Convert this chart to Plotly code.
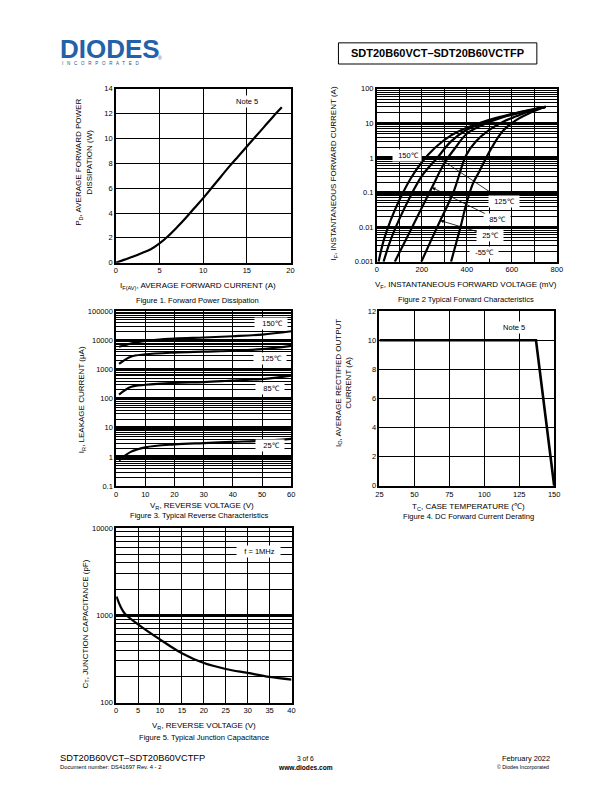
import plotly.graph_objects as go

W, H = 612, 792
FONT = "Liberation Sans, Arial, Helvetica, sans-serif"


def px(x):
    return x / W


def py(y):
    return 1 - y / H


# ---------------- data ----------------
# Figure 1: forward power dissipation
f1_if = [0, 1, 2, 3, 4, 5, 6, 7, 8, 9, 10, 11, 12, 13, 14, 15, 16, 17, 18, 19]
f1_pd = [0, 0.25, 0.5, 0.78, 1.08, 1.55, 2.15, 2.85, 3.6, 4.4, 5.2, 6.05, 6.9,
         7.75, 8.55, 9.35, 10.15, 10.95, 11.75, 12.5]

# Figure 2: typical forward characteristics (V in mV, I in A)
f2_v150 = [8, 30, 60, 100, 150, 200, 260, 330, 400, 480, 560, 640, 700, 750]
f2_i150 = [0.001, 0.004, 0.015, 0.06, 0.25, 0.75, 2.0, 4.5, 7.5, 11.5, 16, 21.5, 26, 30]
f2_v125 = [30, 60, 100, 150, 200, 271, 330, 400, 480, 560, 640, 700, 750]
f2_i125 = [0.001, 0.004, 0.017, 0.08, 0.3, 1.05, 3.0, 6.5, 10.5, 15.5, 21, 25.5, 30]
f2_v85 = [80, 157, 245, 300, 350, 400, 480, 560, 640, 700, 750]
f2_i85 = [0.001, 0.01, 0.14, 0.7, 2.0, 5.0, 9.5, 15, 20.5, 25, 30]
f2_v25 = [198, 240, 282, 340, 397, 440, 500, 560, 620, 690, 750]
f2_i25 = [0.001, 0.004, 0.0155, 0.1, 1.2, 3.0, 6.5, 11, 16, 24, 30]
f2_vm55 = [330, 350, 372, 397, 427, 455, 507, 560, 616, 680, 750]
f2_im55 = [0.001, 0.003, 0.01, 0.045, 0.18, 0.4, 1.8, 6, 12, 20, 30]

# Figure 3: typical reverse characteristics (uA)
f3_vr = [1, 5, 10, 20, 30, 40, 50, 60]
f3_150 = [6000, 7700, 9600, 11500, 12500, 13800, 15800, 20500]
f3_125 = [1550, 2750, 3300, 3800, 4100, 4400, 5000, 6500]
f3_85 = [138, 250, 300, 350, 370, 420, 470, 620]
f3_25 = [0.76, 1.5, 2.15, 2.7, 3.0, 3.3, 3.6, 4.2]

# Figure 4: DC forward current derating
f4_tc = [25, 137, 150]
f4_io = [10, 10, 0]

# Figure 5: typical junction capacitance
f5_vr = [0.1, 1, 2, 5, 10, 15, 20, 25, 30, 35, 40]
f5_ct = [1640, 1260, 1045, 790, 530, 368, 284, 243, 219, 197, 184]

# tick labels
f2_yticks = [0.001, 0.01, 0.1, 1, 10, 100]
f2_ylabels = ["0.001", "0.01", "0.1", "1", "10", "100"]
f3_yticks = [0.1, 1, 10, 100, 1000, 10000, 100000]
f3_ylabels = ["0.1", "1", "10", "100", "1000", "10000", "100000"]
f5_yticks = [100, 1000, 10000]
f5_ylabels = ["100", "1000", "10000"]

# ---------------- figure ----------------
fig = go.Figure()
LW = 2.2

fig.add_trace(go.Scatter(x=f1_if, y=f1_pd, mode="lines", line=dict(color="black", width=LW, shape="spline"),
                         xaxis="x", yaxis="y", showlegend=False))
for v, i in [(f2_v150, f2_i150), (f2_v125, f2_i125), (f2_v85, f2_i85), (f2_v25, f2_i25), (f2_vm55, f2_im55)]:
    fig.add_trace(go.Scatter(x=v, y=i, mode="lines", line=dict(color="black", width=LW, shape="spline"),
                             xaxis="x2", yaxis="y2", showlegend=False))
for s in [f3_150, f3_125, f3_85, f3_25]:
    fig.add_trace(go.Scatter(x=f3_vr, y=s, mode="lines", line=dict(color="black", width=LW, shape="spline"),
                             xaxis="x3", yaxis="y3", showlegend=False))
fig.add_trace(go.Scatter(x=f4_tc, y=f4_io, mode="lines", line=dict(color="black", width=2.6),
                         xaxis="x4", yaxis="y4", showlegend=False))
fig.add_trace(go.Scatter(x=f5_vr, y=f5_ct, mode="lines", line=dict(color="black", width=LW, shape="spline"),
                         xaxis="x5", yaxis="y5", showlegend=False))

tickfont = dict(family=FONT, size=7.5, color="black")


def lin_axis(domain, rng, dtick, anchor, **kw):
    d = dict(domain=domain, range=rng, dtick=dtick, anchor=anchor, showline=True, linecolor="black",
             linewidth=1.5, mirror=True, ticks="", showgrid=True, gridcolor="black", gridwidth=1.3,
             zeroline=False, tickfont=tickfont, fixedrange=True)
    d.update(kw)
    return d


def minor_vals(lo, hi):
    vals = []
    for e in range(lo, hi):
        for m in range(2, 10):
            vals.append(m * 10 ** e)
    return vals


def log_axis(domain, lo, hi, tv, tt, anchor, major_w=3):
    return dict(domain=domain, type="log", range=[lo, hi], anchor=anchor, tickmode="array", tickvals=tv,
                ticktext=tt, showline=True, linecolor="black", linewidth=1.5, mirror=True, ticks="",
                showgrid=True, gridcolor="black", gridwidth=major_w, zeroline=False, tickfont=tickfont,
                minor=dict(tickmode="array", tickvals=minor_vals(lo, hi), showgrid=True, gridcolor="black",
                           gridwidth=1, ticks=""),
                fixedrange=True)


layout = dict(
    width=W, height=H, margin=dict(l=0, r=0, t=0, b=0),
    paper_bgcolor="white", plot_bgcolor="white", showlegend=False,
    font=dict(family=FONT, color="black"),
    xaxis=lin_axis([px(113.7), px(291.3)], [0, 20], 5, "y"),
    yaxis=lin_axis([py(261.7), py(85.7)], [0, 14], 2, "x"),
    xaxis2=lin_axis([px(379), px(562)], [0, 800], 200, "y2",
                    minor=dict(dtick=100, showgrid=True, gridcolor="black", gridwidth=1, ticks="")),
    yaxis2=log_axis([py(260.7), py(85.7)], -3, 2, f2_yticks, f2_ylabels, "x2"),
    xaxis3=lin_axis([px(114), px(292)], [0, 60], 10, "y3"),
    yaxis3=log_axis([py(487.7), py(310.7)], -1, 5, f3_yticks, f3_ylabels, "x3"),
    xaxis4=lin_axis([px(381.7), px(559.3)], [25, 150], 25, "y4"),
    yaxis4=lin_axis([py(487.3), py(310.7)], [0, 12], 2, "x4"),
    xaxis5=lin_axis([px(114), px(292.3)], [0, 40], 5, "y5"),
    yaxis5=log_axis([py(706.7), py(530)], 2, 4, f5_yticks, f5_ylabels, "x5", major_w=2.5),
)
fig.update_layout(**layout)

ann = []


def ptext(x, y, text, size=8, xanchor="center", yanchor="middle", angle=0, **kw):
    d = dict(x=px(x), y=py(y), xref="paper", yref="paper", text=text, showarrow=False,
             xanchor=xanchor, yanchor=yanchor, textangle=angle,
             font=dict(family=FONT, size=size, color=kw.pop("color", "black")))
    d.update(kw)
    ann.append(d)


TS = 8  # axis title size
CS = 7.6  # caption size

# axis titles and captions
ptext(81, 160, "P<sub>D</sub>, AVERAGE FORWARD POWER<br>DISSIPATION (W)", size=TS, angle=-90)
ptext(197, 285.5, "I<sub>F(AV)</sub>, AVERAGE FORWARD CURRENT (A)", size=TS)
ptext(197, 299.5, "Figure 1. Forward Power Dissipation", size=CS)

ptext(336, 172, "I<sub>F</sub>, INSTANTANEOUS FORWARD CURRENT (A)", size=TS, angle=-90)
ptext(470, 284, "V<sub>F</sub>, INSTANTANEOUS FORWARD VOLTAGE (mV)", size=TS)
ptext(470, 298.5, "Figure 2 Typical Forward Characteristics", size=CS)

ptext(80, 400, "I<sub>R</sub>, LEAKAGE CURRENT (µA)", size=TS, angle=-90)
ptext(201, 507.5, "V<sub>R</sub>, REVERSE VOLTAGE (V)", size=TS)
ptext(198, 517.5, "Figure 3. Typical Reverse Characteristics", size=CS)

ptext(345, 383, "I<sub>O</sub>, AVERAGE RECTIFIED OUTPUT<br>CURRENT (A)", size=TS, angle=-90)
ptext(472, 508.5, "T<sub>C</sub>, CASE TEMPERATURE (℃)", size=TS)
ptext(472, 518.5, "Figure 4. DC Forward Current Derating", size=CS)

ptext(83, 627, "C<sub>T</sub>, JUNCTION CAPACITANCE (pF)", size=TS, angle=-90)
ptext(203, 730, "V<sub>R</sub>, REVERSE VOLTAGE (V)", size=TS)
ptext(203, 742, "Figure 5. Typical Junction Capacitance", size=CS)

# in-plot labels
def dlabel(xr, yr, x, y, text, **kw):
    d = dict(xref=xr, yref=yr, x=x, y=y, text=text, showarrow=False, bgcolor="white", borderpad=1,
             font=dict(family=FONT, size=7.5, color="black"))
    d.update(kw)
    ann.append(d)


dlabel("x", "y", 15.0, 13.0, "&nbsp;Note 5&nbsp;")
dlabel("x4", "y4", 121, 10.87, "&nbsp;Note 5&nbsp;")
dlabel("x5", "y5", 32.4, 3.728, "&nbsp;&nbsp;&nbsp;f = 1MHz&nbsp;&nbsp;")

dlabel("x3", "y3", 53.2, 4.573, "&nbsp;&nbsp;&nbsp;150℃&nbsp;&nbsp;")
dlabel("x3", "y3", 52.6, 3.386, "&nbsp;&nbsp;&nbsp;125℃&nbsp;&nbsp;")
dlabel("x3", "y3", 52.8, 2.336, "&nbsp;&nbsp;&nbsp;85℃&nbsp;&nbsp;")
dlabel("x3", "y3", 52.6, 0.39, "&nbsp;&nbsp;&nbsp;25℃&nbsp;&nbsp;")

dlabel("x2", "y2", 135, 0.06, "&nbsp;&nbsp;150℃&nbsp;")
dlabel("x2", "y2", 475, -2.72, "&nbsp;&nbsp;-55℃&nbsp;&nbsp;")
arrow = dict(showarrow=True, arrowhead=2, arrowsize=0.9, arrowwidth=0.8, arrowcolor="black")
dlabel("x2", "y2", 271, 0.021, "&nbsp;&nbsp;125℃&nbsp;&nbsp;", ax=66, ay=44, **arrow)
dlabel("x2", "y2", 245, -0.854, "&nbsp;&nbsp;85℃&nbsp;&nbsp;", ax=65, ay=32, **arrow)
dlabel("x2", "y2", 282, -1.81, "&nbsp;&nbsp;25℃&nbsp;&nbsp;", ax=50, ay=15, **arrow)

# header
ptext(56, 46, "<b>DIODES</b>", size=26, xanchor="left", color="#2361a9", borderpad=0)
ptext(58, 60, "I   N   C   O   R   P   O   R   A   T   E   D", size=4.5, xanchor="left", color="#2b4f7e",
      borderpad=0)
ptext(156, 55, "®", size=5, xanchor="left", color="#2361a9", borderpad=0)
ptext(441, 50, "<b>SDT20B60VCT–SDT20B60VCTFP</b>", size=11)

# footer
ptext(55, 763, "SDT20B60VCT–SDT20B60VCTFP", size=9.3, xanchor="left")
ptext(55, 772, "Document number: DS41697 Rev. 4 - 2", size=5.8, xanchor="left")
ptext(306, 763, "3 of 6", size=6.7)
ptext(306, 772, "<b>www.diodes.com</b>", size=6.6)
ptext(557, 763, "February 2022", size=7.4, xanchor="right")
ptext(556, 772, "© Diodes Incorporated", size=5.2, xanchor="right")

fig.update_layout(annotations=ann)
fig.add_shape(type="rect", xref="paper", yref="paper", x0=px(340), x1=px(541.7), y0=py(60.7), y1=py(39.3),
              line=dict(color="black", width=1))

fig.write_html(
    "out.html",
    config={"displayModeBar": False, "responsive": False},
    post_script=("document.documentElement.style.margin='0px';document.body.style.margin='0px';"
                 "document.documentElement.style.overflow='hidden';document.body.style.overflow='hidden';"),
)
